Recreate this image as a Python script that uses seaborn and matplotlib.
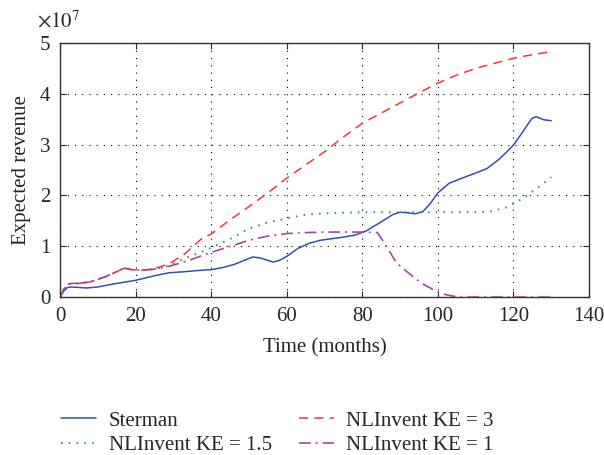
import seaborn as sns
import matplotlib.pyplot as plt
import numpy as np
import pandas as pd

# values, revenue in units of 1e7
t_sterman = [0, 1, 2, 3, 5, 7, 10, 15, 20, 25, 29, 33, 37.5, 40, 43, 46, 49, 51, 53, 56.4, 58,
             60, 63, 66, 69, 72, 75, 78, 81, 85, 88, 90, 92, 94, 96, 98, 100, 103, 106,
             110, 113, 116, 118, 120, 122, 124, 125, 126, 128, 130]
sterman = [0, 0.12, 0.19, 0.2, 0.19, 0.18, 0.2, 0.27, 0.33, 0.42, 0.48, 0.5, 0.53, 0.54, 0.58,
           0.64, 0.73, 0.79, 0.77, 0.69, 0.72, 0.8, 0.96, 1.06, 1.12, 1.15, 1.18, 1.22, 1.3,
           1.48, 1.62, 1.67, 1.66, 1.64, 1.68, 1.84, 2.05, 2.24, 2.33, 2.44, 2.53, 2.7,
           2.84, 2.99, 3.2, 3.42, 3.52, 3.55, 3.49, 3.47]

t_ke3 = [0, 1, 2, 3, 5, 8, 12, 15, 17, 19, 22, 25, 29, 33, 37.5, 40, 45, 50, 55, 60, 65, 70,
         75, 80, 85, 90, 95, 100, 105, 110, 115, 120, 125, 130]
ke3 = [0, 0.15, 0.25, 0.27, 0.27, 0.3, 0.4, 0.5, 0.57, 0.54, 0.53, 0.56, 0.66, 0.85, 1.15,
       1.24, 1.52, 1.78, 2.05, 2.34, 2.6, 2.86, 3.15, 3.42, 3.62, 3.82, 4.02, 4.21, 4.37,
       4.5, 4.6, 4.7, 4.77, 4.83]

t_ke15 = [0, 1, 2, 3, 5, 8, 12, 15, 17, 19, 22, 25, 28, 30, 34, 40, 46, 50, 55, 60, 65, 70,
          80, 90, 100, 110, 114, 118, 120, 122, 124, 126, 128, 130]
ke15 = [0, 0.15, 0.25, 0.27, 0.27, 0.3, 0.4, 0.5, 0.57, 0.54, 0.53, 0.55, 0.6, 0.66, 0.79,
        0.97, 1.18, 1.35, 1.47, 1.55, 1.62, 1.65, 1.67, 1.67, 1.67, 1.67, 1.69, 1.76, 1.84,
        1.92, 2.02, 2.13, 2.24, 2.36]

t_ke1 = [0, 1, 2, 3, 5, 8, 12, 15, 17, 19, 22, 25, 28, 30, 34, 40, 46, 50, 55, 60, 65, 70,
         80, 84, 86, 89, 91.5, 93.5, 96, 98, 100, 102, 104, 106, 110, 120, 130]
ke1 = [0, 0.15, 0.25, 0.27, 0.27, 0.3, 0.4, 0.5, 0.57, 0.54, 0.53, 0.55, 0.59, 0.63, 0.72,
       0.88, 1.02, 1.12, 1.2, 1.25, 1.27, 1.28, 1.28, 1.27, 1.05, 0.68, 0.52, 0.4, 0.26, 0.18,
       0.1, 0.05, 0.02, 0.0, 0.0, 0.0, 0.0]

x_ticks = [0, 20, 40, 60, 80, 100, 120, 140]
y_ticks = [0, 1, 2, 3, 4, 5]

sns.set_style('ticks')
plt.rcParams['font.family'] = ['Liberation Serif', 'DejaVu Serif']
plt.rcParams['mathtext.fontset'] = 'stix'
fs = 15

fig = plt.figure(figsize=(6.04, 4.55), dpi=100)
ax = fig.add_axes([0.0993, 0.347, 0.8758, 0.5585])

sns.lineplot(x=t_sterman, y=np.array(sterman) * 1e7, ax=ax, color='#3350a8', lw=1.1,
             label='Sterman')
sns.lineplot(x=t_ke15, y=np.array(ke15) * 1e7, ax=ax, color='#2a9a4a', lw=1.4,
             linestyle=(0, (0.8, 3.2)), label='NLInvent KE = 1.5')
sns.lineplot(x=t_ke3, y=np.array(ke3) * 1e7, ax=ax, color='#f03838', lw=1.1,
             linestyle=(0, (6, 4)), label='NLInvent KE = 3')
sns.lineplot(x=t_ke1, y=np.array(ke1) * 1e7, ax=ax, color='#a844a8', lw=1.2,
             linestyle=(0, (7, 3, 1.2, 3)), label='NLInvent KE = 1')

ax.set_xlim(0, 140)
ax.set_ylim(0, 5e7)
ax.set_xticks(x_ticks)
ax.set_yticks([v * 1e7 for v in y_ticks])
ax.set_yticklabels([str(v) for v in y_ticks])
ax.text(-0.044, 1.063, r'$\times10^{7}$', transform=ax.transAxes, fontsize=fs,
        ha='left', va='baseline')

ax.grid(True, color='black', linestyle=(0, (1, 5.5)), linewidth=0.8)
ax.tick_params(direction='in', top=True, right=True, length=4, labelsize=fs)
ax.tick_params(axis='x', pad=7)
ax.tick_params(axis='y', pad=7)
for s in ax.spines.values():
    s.set_visible(True)
    s.set_color('#333333')
    s.set_linewidth(1.0)

ax.set_xlabel('Time (months)', fontsize=fs, labelpad=9)
ax.set_ylabel('Expected revenue', fontsize=fs, labelpad=6)

ax.legend(loc='center left', bbox_to_anchor=(0.07, 0.048), bbox_transform=fig.transFigure,
          ncol=2, frameon=False, fontsize=fs, handlelength=1.7, handletextpad=0.58,
          columnspacing=1.3, labelspacing=0.25)

fig.savefig('out.png', dpi=100)
